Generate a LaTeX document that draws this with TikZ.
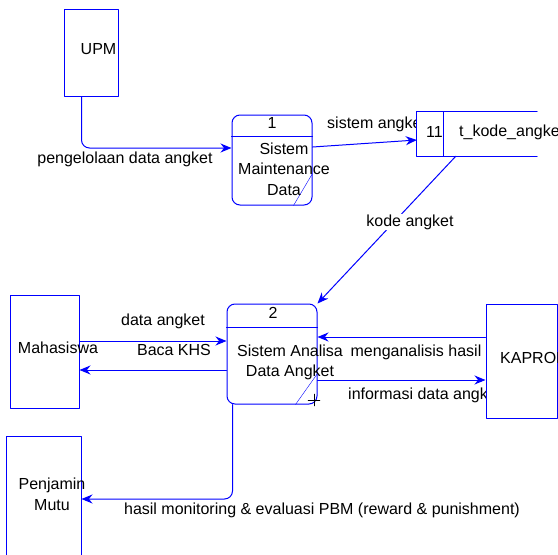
\documentclass[tikz,border=0pt]{standalone}
\usepackage{fontspec}
\setmainfont{Liberation Sans}
\usetikzlibrary{arrows.meta,calc}
\begin{document}
\begin{tikzpicture}[x=1pt,y=-1pt,font=\fontsize{16}{20.5}\selectfont,line join=round,line cap=round,
	>={Stealth[length=11pt,width=9pt]},
	every node/.style={inner sep=0pt},
	entity/.style={draw=blue,line width=1pt,rectangle,fill=white},
	proses/.style={draw=blue,line width=1pt,rectangle,rounded corners=8pt},
	flow/.style={draw=blue,line width=1pt,->}]
\clip (0,0) rectangle (558,555);
% entitas luar
\node[entity,minimum width=54pt,minimum height=87pt] (upm) at (91,52.5) {};
\node (upmtxt) at (98.5,49) {UPM};
\node[entity,minimum width=69pt,minimum height=113pt] (mhs) at (44.5,351.5) {};
\node (mhstxt) at (58,348) {Mahasiswa};
\node[entity,minimum width=75pt,minimum height=130pt] (pjm) at (43.5,501) {};
\node[align=center] (pjmtxt) at (52,494.5) {Penjamin\\Mutu};
% proses
\node[proses,minimum width=80pt,minimum height=90pt] (p1) at (272,160) {};
\draw[blue,line width=1pt] ($(p1.north west)+(0,22)$) -- ($(p1.north east)+(0,22)$);
\draw[blue] ($(p1.south east)+(-19,0)$) -- ($(p1.south east)+(0,-32)$);
\node (p1no) at (272,123) {1};
\node[align=center] (p1txt) at (284,169) {Sistem\\Maintenance\\Data};
\node[proses,minimum width=90pt,minimum height=100pt] (p2) at (272,354) {};
\draw[blue,line width=1pt] ($(p2.north west)+(0,24)$) -- ($(p2.north east)+(0,24)$);
\draw[blue] ($(p2.south east)+(-22,0)$) -- ($(p2.south east)+(0,-31)$);
\draw (308,400) -- (320,400) (314,394) -- (314,406);
\node (p2no) at (273,313) {2};
\node[align=center] (p2txt) at (290,362.5) {Sistem Analisa\\Data Angket};
% data store
\node[anchor=west] (lblsa) at (327,124) {sistem angket};
\node[fill=white,minimum width=120pt,minimum height=44pt] (ds) at (477,134) {};
\draw[blue,line width=1pt] (ds.north east) -- (ds.north west) -- (ds.south west) -- (ds.south east);
\draw[blue,line width=1pt] ($(ds.north west)+(27,0)$) -- ($(ds.south west)+(27,0)$);
\node (dsno) at (434.5,132) {11};
\node[anchor=west] (dstxt) at (459,132) {t\_kode\_angket};
% kaprodi
\node[anchor=west] (lblinfo) at (348,395) {informasi data angket};
\node[entity,minimum width=71pt,minimum height=114pt] (kaprodi) at (521.5,361) {};
\node[anchor=west] (kaprodtxt) at (500,358) {KAPRODI};
% aliran data
\draw[flow,rounded corners=8pt] ([xshift=18pt]upm.south west) |- ([yshift=12pt]p1.west);
\node (lblpeng) at (125,159) {pengelolaan data angket};
\draw[flow] ([yshift=13pt]p1.east) -- ([yshift=-6pt]ds.west);
\draw[flow] ($(ds.south west)+(39,0)$) -- (p2.north east);
\node[fill=white,inner sep=1pt] (lblkode) at (410,222) {kode angket};
\draw[flow] ([yshift=10.5pt]mhs.east) -- ([yshift=13pt]p2.west);
\node (lbldata) at (163,321) {data angket};
\draw[flow] ([yshift=-16pt]p2.west) -- ([yshift=-18.5pt]mhs.east);
\node (lblkhs) at (174,350) {Baca KHS};
\draw[flow] ([yshift=24pt]kaprodi.west) -- ([yshift=17pt]p2.east);
\node (lblanalisis) at (416,352) {menganalisis hasil};
\draw[flow] ([yshift=-26pt]p2.east) -- ([yshift=-19pt]kaprodi.west);
\draw[flow,rounded corners=8pt] ([xshift=6pt]p2.south west) |- ([yshift=2pt]pjm.east);
\node (lblhasil) at (322,510) {hasil monitoring \& evaluasi PBM (reward \& punishment)};
\end{tikzpicture}
\end{document}
